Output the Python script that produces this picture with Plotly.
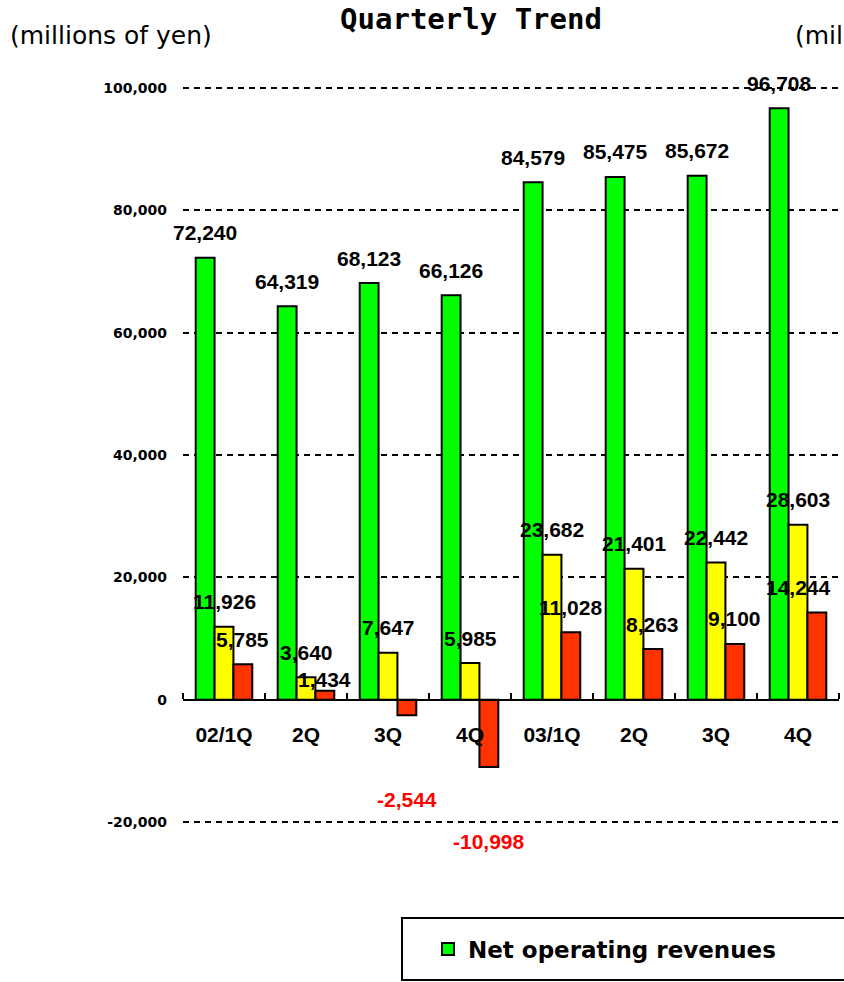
import plotly.graph_objects as go

# ---- data ----
categories = ["02/1Q", "2Q", "3Q", "4Q", "03/1Q", "2Q", "3Q", "4Q"]
net_operating_revenues = [72240, 64319, 68123, 66126, 84579, 85475, 85672, 96708]
operating_income = [11926, 3640, 7647, 5985, 23682, 21401, 22442, 28603]
net_income = [5785, 1434, -2544, -10998, 11028, 8263, 9100, 14244]
y_tick_values = [-20000, 0, 20000, 40000, 60000, 80000, 100000]

# ---- styles ----
series = [
    ("Net operating revenues", net_operating_revenues, "#00FF00", True),
    ("Operating income", operating_income, "#FFFF00", False),
    ("Net income", net_income, "#FF3300", False),
]
label_shift_default = 25
red_label_shifts = [25, 11, -84, -75, 25, 25, 25, 25]
red_label_xshifts = [0, 0, 0, 0, 0, 0, 0, -18]

W, H = 844, 982
ML, MR, MT, MB = 183, 5, 85, 157
y_range = [-20500, 100500]
bargap = 0.31

fig = go.Figure()
x_idx = list(range(len(categories)))
for name, vals, color, show in series:
    fig.add_trace(go.Bar(
        x=x_idx, y=vals, name=name, showlegend=show,
        marker=dict(color=color, line=dict(color="black", width=2)),
        hoverinfo="skip",
    ))

plot_w = W - ML - MR
plot_h = H - MT - MB
def px_to_paper_x(px):
    return (px - ML) / plot_w
def px_to_paper_y(py):
    return (H - MB - py) / plot_h

bar_w = (1 - bargap) / len(series)
annotations = []
for k, (name, vals, color, show) in enumerate(series):
    offset = (k - (len(series) - 1) / 2) * bar_w
    for i, v in enumerate(vals):
        shift = label_shift_default
        xshift = 0
        if k == 2:
            shift = red_label_shifts[i]
            xshift = red_label_xshifts[i]
        annotations.append(dict(
            x=i + offset, y=v, xref="x", yref="y",
            text=f"{v:,}", showarrow=False, yshift=shift, xshift=xshift,
            xanchor="center", yanchor="middle",
            font=dict(family="Liberation Sans", size=21, weight="bold",
                      color="#FF0000" if v < 0 else "black"),
        ))

for px in (8, 793):
    annotations.append(dict(
        x=px_to_paper_x(px), y=px_to_paper_y(35), xref="paper", yref="paper",
        text="(millions of yen)", showarrow=False, xanchor="left", yanchor="middle",
        font=dict(family="DejaVu Sans", size=25, color="black"),
    ))

zero_pos = (0 - y_range[0]) / (y_range[1] - y_range[0])

fig.update_layout(
    width=W, height=H,
    margin=dict(l=ML, r=MR, t=MT, b=MB, pad=0),
    paper_bgcolor="white", plot_bgcolor="white",
    barmode="group", bargap=bargap, bargroupgap=0,
    title=dict(text="Quarterly Trend", x=471 / W, xref="container", xanchor="center",
               y=1 - 19 / H, yref="container", yanchor="middle",
               font=dict(family="DejaVu Sans Mono", size=29, weight="bold", color="black")),
    xaxis=dict(
        range=[-0.5, len(categories) - 0.5], tickmode="array", tickvals=x_idx,
        ticktext=categories, ticks="", showgrid=False, zeroline=False,
        showline=True, linecolor="black", linewidth=2,
        anchor="free", position=zero_pos, ticklabelstandoff=16,
        tickfont=dict(family="Liberation Sans", size=21, weight="bold", color="black"),
        minor=dict(tickmode="array", tickvals=[i - 0.5 for i in range(len(categories) + 1)],
                   ticks="inside", ticklen=6, tickwidth=2, tickcolor="black", showgrid=False),
    ),
    yaxis=dict(
        range=y_range, tickmode="array", tickvals=y_tick_values,
        ticktext=[f"{v:,}" for v in y_tick_values], ticks="", showline=False,
        zeroline=False, showgrid=True, gridcolor="black", gridwidth=2, griddash="6px,5px",
        ticklabelstandoff=15,
        tickfont=dict(family="DejaVu Sans", size=14, weight="bold", color="black"),
    ),
    legend=dict(xref="container", yref="container", x=428 / W, y=1 - 949 / H,
                xanchor="left", yanchor="middle", orientation="h",
                bgcolor="rgba(0,0,0,0)", borderwidth=0,
                font=dict(family="DejaVu Sans", size=23, weight="bold", color="black")),
    shapes=[dict(type="rect", xref="paper", yref="paper",
                 x0=px_to_paper_x(402), x1=px_to_paper_x(880),
                 y0=px_to_paper_y(918), y1=px_to_paper_y(980),
                 line=dict(color="black", width=2), fillcolor="rgba(0,0,0,0)")],
    annotations=annotations,
    showlegend=True,
)

fig.write_html("out.html")
